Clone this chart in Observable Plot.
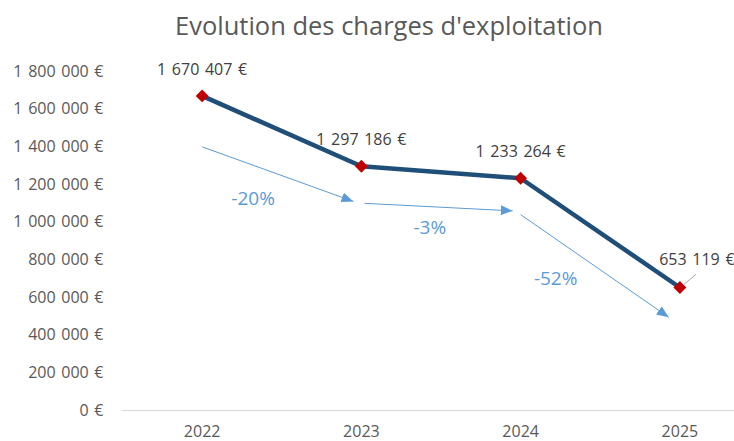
<!DOCTYPE html>
<html>
<head>
<meta charset="utf-8">
<script src="https://cdn.jsdelivr.net/npm/d3@7"></script>
<script src="https://cdn.jsdelivr.net/npm/@observablehq/plot@0.6"></script>
<style>
  body { margin: 0; background: white; }
  #title { width: 734px; box-sizing: border-box; padding-left: 44px; height: 50px; line-height: 50px;
           text-align: center; font-family: "Open Sans", sans-serif; font-size: 25.5px; color: #595959; }
  #chart svg text { word-spacing: 1.5px; }
</style>
</head>
<body>
<div id="title">Evolution des charges d'exploitation</div>
<div id="chart"></div>
<script>
// Data
const years = [2022, 2023, 2024, 2025];
const charges = [1670407, 1297186, 1233264, 653119];
const valueLabels = ["1 670 407 €", "1 297 186 €", "1 233 264 €", "653 119 €"];
const yTicks = [0, 200000, 400000, 600000, 800000, 1000000, 1200000, 1400000, 1600000, 1800000];

// Evolution arrows (annotation, in data units)
const changeLabels = ["-20%", "-3%", "-52%"];
const arrowFromYear = [2022.0, 2023.02, 2024.0];
const arrowFromValue = [1400000, 1100000, 1040000];
const arrowToYear = [2022.95, 2023.95, 2024.93];
const arrowToValue = [1110000, 1060000, 495000];
const changeLabelYear = [2022.32, 2023.43, 2024.22];
const changeLabelValue = [1121000, 972000, 701000];

const data = years.map((y, i) => ({year: y, value: charges[i], label: valueLabels[i], last: i === years.length - 1}));
const arrows = changeLabels.map((l, i) => ({
  label: l, x1: arrowFromYear[i], y1: arrowFromValue[i], x2: arrowToYear[i], y2: arrowToValue[i],
  lx: changeLabelYear[i], ly: changeLabelValue[i]
}));
const lastPoint = data[data.length - 1];
const leader = [{x1: lastPoint.year + 0.025, y1: lastPoint.value + 16000, x2: lastPoint.year + 0.1, y2: lastPoint.value + 69000}];

const fmt = d => d3.format(",")(d).replace(/,/g, " ") + " €";

function headMarker(color) {
  const m = d3.create("svg:marker")
    .attr("viewBox", "-12 -5 12 10")
    .attr("markerWidth", 12)
    .attr("markerHeight", 10)
    .attr("markerUnits", "userSpaceOnUse")
    .attr("refX", 0).attr("refY", 0)
    .attr("orient", "auto");
  m.append("path").attr("d", "M-12,-5L0,0L-12,5Z").attr("fill", color).attr("stroke", "none");
  return m.node();
}

const chart = Plot.plot({
  width: 734,
  height: 391,
  marginTop: 21,
  marginBottom: 31,
  marginLeft: 122,
  marginRight: 0,
  style: {fontFamily: "Open Sans, sans-serif", fontSize: "16px", color: "#595959", background: "white"},
  x: {type: "linear", domain: [2021.5, 2025.5], range: [122, 759], ticks: years, tickFormat: d => String(d),
      tickSize: 0, tickPadding: 15, label: null},
  y: {domain: [0, 1800000], ticks: yTicks, tickFormat: fmt, tickSize: 0, tickPadding: 19, label: null},
  marks: [
    Plot.ruleY([0], {stroke: "#d9d9d9", strokeWidth: 1.2}),
    Plot.link(arrows, {x1: "x1", y1: "y1", x2: "x2", y2: "y2", stroke: "#5B9BD5", strokeWidth: 1, markerEnd: headMarker}),
    Plot.text(arrows, {x: "lx", y: "ly", text: "label", fill: "#5B9BD5", fontSize: 19}),
    Plot.line(data, {x: "year", y: "value", stroke: "#1F4E79", strokeWidth: 4.5}),
    Plot.dot(data, {x: "year", y: "value", symbol: "diamond2", r: 5.8, fill: "#C00000", stroke: "none"}),
    Plot.link(leader, {x1: "x1", y1: "y1", x2: "x2", y2: "y2", stroke: "#a6a6a6", strokeWidth: 1}),
    Plot.text(data.filter(d => !d.last), {x: "year", y: "value", text: "label", dy: -26, fill: "#404040", fontSize: 16}),
    Plot.text(data.filter(d => d.last), {x: "year", y: "value", text: "label", dx: 17, dy: -28, fill: "#404040", fontSize: 16})
  ]
});
document.getElementById("chart").appendChild(chart);
</script>
</body>
</html>
